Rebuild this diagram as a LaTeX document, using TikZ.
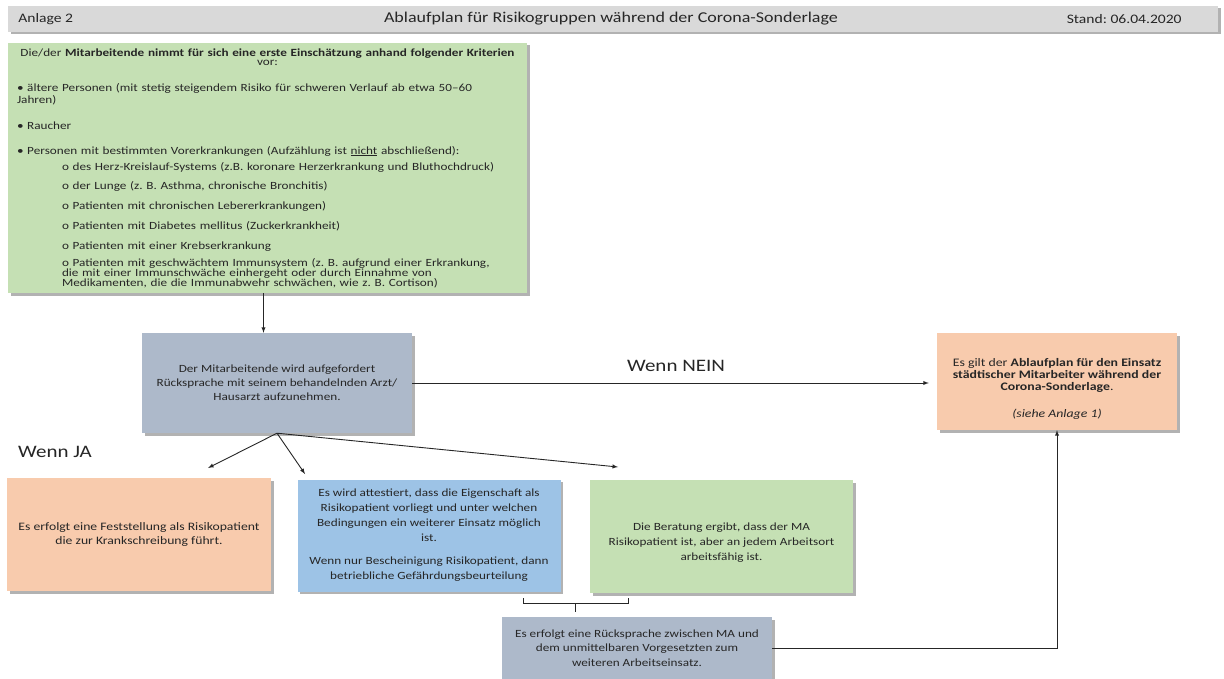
\documentclass[tikz,border=0pt]{standalone}
\usepackage{fontspec}
\setmainfont{Carlito}[FakeStretch=1.2]
\usepackage{xcolor}
\usepackage{tikz}
\usetikzlibrary{shadows,arrows,calc,positioning}

\definecolor{kopfgrau}{HTML}{D9D9D9}
\definecolor{krgruen}{HTML}{C5E0B4}
\definecolor{graublau}{HTML}{ADB9CA}
\definecolor{lachs}{HTML}{F8CBAD}
\definecolor{hellblau}{HTML}{9DC3E6}
\definecolor{schrift}{HTML}{262626}

\frenchspacing

\begin{document}
\begin{tikzpicture}[x=1pt, y=-1pt, every node/.style={text=schrift},
    kasten/.style={rectangle, fill=#1, inner sep=0pt, align=center,
      drop shadow={shadow xshift=2.5pt, shadow yshift=-2.5pt, fill=black, opacity=0.3}},
    pfeil/.style={-latex, line width=0.9pt, draw=schrift},
    linie/.style={line width=0.8pt, draw=schrift}]

        \fill[white] (0,0) rectangle (1224,679);
        \useasboundingbox (0,0) rectangle (1224,679);

         % Kopfzeile
         \node[kasten=kopfgrau, minimum width=1210pt, minimum height=26pt] (kopf) at (613,19) {};
         \node[font=\fontsize{13}{15}\selectfont, anchor=west] (anlage) at ([xshift=7pt]kopf.west) {Anlage 2};
         \node[font=\fontsize{15}{18}\selectfont] (titel) at ([xshift=-2pt]kopf.center) {Ablaufplan für Risikogruppen während der Corona-Sonderlage};
         \node[font=\fontsize{13}{15}\selectfont, anchor=east] (stand) at ([xshift=-33pt]kopf.east) {Stand: 06.04.2020};

         % Kriterien
         \node[kasten=krgruen, minimum width=519pt, minimum height=250pt, text width=501pt, align=left,
               font=\fontsize{11}{10.8}\selectfont] (krit) at (267.5,168) {%
           \makebox[\linewidth]{Die/der \textbf{Mitarbeitende nimmt für sich eine erste Einschätzung anhand folgender Kriterien}}\\[-1.8pt]
           \makebox[\linewidth]{vor:}\\[15.2pt]
           \textbullet\ ältere Personen (mit stetig steigendem Risiko für schweren Verlauf ab etwa 50--60\\[1.2pt]
           Jahren)\\[15.2pt]
           \textbullet\ Raucher\\[14.2pt]
           \textbullet\ Personen mit bestimmten Vorerkrankungen (Aufzählung ist \underline{nicht} abschließend):\\[5.2pt]
           \hspace*{45pt}o des Herz-Kreislauf-Systems (z.B. koronare Herzerkrankung und Bluthochdruck)\\[8.2pt]
           \hspace*{45pt}o der Lunge (z. B. Asthma, chronische Bronchitis)\\[9.2pt]
           \hspace*{45pt}o Patienten mit chronischen Lebererkrankungen)\\[9.2pt]
           \hspace*{45pt}o Patienten mit Diabetes mellitus (Zuckerkrankheit)\\[9.2pt]
           \hspace*{45pt}o Patienten mit einer Krebserkrankung\\[6.2pt]
           \hspace*{45pt}o Patienten mit geschwächtem Immunsystem (z. B. aufgrund einer Erkrankung,\\[-0.8pt]
           \hspace*{45pt}die mit einer Immunschwäche einhergeht oder durch Einnahme von\\[-0.8pt]
           \hspace*{45pt}Medikamenten, die die Immunabwehr schwächen, wie z. B. Cortison)};

         % Arzt
         \node[kasten=graublau, minimum width=270pt, minimum height=100pt, font=\fontsize{11}{14}\selectfont] (arzt) at (277,383)
           {Der Mitarbeitende wird aufgefordert\\Rücksprache mit seinem behandelnden Arzt/\\Hausarzt aufzunehmen.};

         % Anlage 1
         \node[kasten=lachs, minimum width=240pt, minimum height=97pt, font=\fontsize{11.5}{12}\selectfont] (anl1) at (1057,381.5)
           {\rule{0pt}{22pt}Es gilt der \textbf{Ablaufplan für den Einsatz}\\\textbf{städtischer Mitarbeiter während der}\\\textbf{Corona-Sonderlage}.\\[15pt]\textit{(siehe Anlage 1)}};

         % drei Ergebnisse
         \node[kasten=lachs, minimum width=264pt, minimum height=113pt, font=\fontsize{11.4}{13.5}\selectfont] (krank) at (139,534.5)
           {Es erfolgt eine Feststellung als Risikopatient\\die zur Krankschreibung führt.};
         \node[kasten=hellblau, minimum width=263pt, minimum height=112pt, font=\fontsize{11}{15}\selectfont] (attest) at (429,535.5)
           {Es wird attestiert, dass die Eigenschaft als\\Risikopatient vorliegt und unter welchen\\Bedingungen ein weiterer Einsatz möglich\\ist.\\[8pt]Wenn nur Bescheinigung Risikopatient, dann\\betriebliche Gefährdungsbeurteilung};
         \node[kasten=krgruen, minimum width=263pt, minimum height=113pt, font=\fontsize{11}{15}\selectfont] (faehig) at (721.5,536.5)
           {\rule{0pt}{20pt}Die Beratung ergibt, dass der MA\\Risikopatient ist, aber an jedem Arbeitsort\\arbeitsfähig ist.};

         % Ruecksprache
         \node[kasten=graublau, minimum width=270pt, minimum height=62pt, font=\fontsize{11}{14.5}\selectfont] (rueck) at (637,648)
           {Es erfolgt eine Rücksprache zwischen MA und\\dem unmittelbaren Vorgesetzten zum\\weiteren Arbeitseinsatz.};

         % Beschriftungen
         \node[font=\fontsize{17.5}{20}\selectfont] (nein) at (676,366) {Wenn NEIN};
         \node[font=\fontsize{17.5}{20}\selectfont] (ja) at (55,452) {Wenn JA};

         % Pfeile
         \draw[pfeil] ([xshift=-4pt]krit.south) -- ([xshift=-4pt]krit.south |- arzt.north);
         \draw[pfeil, shorten >=8pt] (arzt.east) -- (arzt.east -| anl1.west);
         \coordinate (zuKrank) at (208,468);
         \coordinate (zuAttest) at (305,474);
         \coordinate (zuFaehig) at (618,467);
         \draw[pfeil] (arzt.south) -- (zuKrank);
         \draw[pfeil] (arzt.south) -- (zuAttest);
         \draw[pfeil] (arzt.south) -- (zuFaehig);
         \draw[pfeil] (rueck.east) -| (anl1.south);

         % Klammer
         \coordinate (klL) at (523,598);
         \coordinate (klR) at (628,598);
         \coordinate (klM) at ($(klL)!0.5!(klR) + (0,5)$);
         \draw[linie] (klL) -- ++(0,5) -| (klR);
         \draw[linie] (klM) -- ++(0,9);

\end{tikzpicture}
\end{document}
